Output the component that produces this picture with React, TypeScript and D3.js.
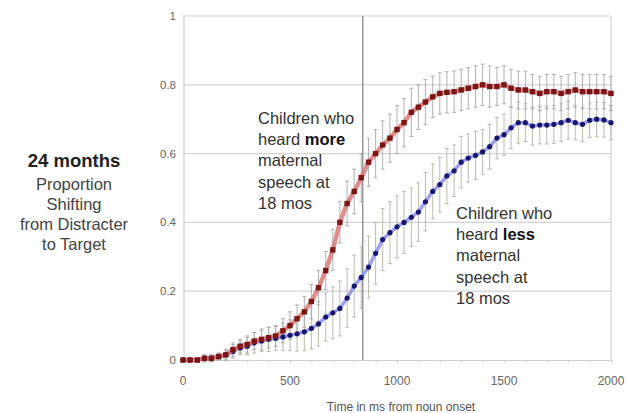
import React, { useEffect, useRef } from 'react';
import * as d3 from 'd3';

// sample times (ms from noun onset)
const times: number[] = [
    0, 33, 67, 100, 133, 167, 200, 233, 267, 300,
    333, 367, 400, 433, 467, 500, 533, 567, 600, 633,
    667, 700, 733, 767, 800, 833, 867, 900, 933, 967,
    1000, 1033, 1067, 1100, 1133, 1167, 1200, 1233, 1267, 1300,
    1333, 1367, 1400, 1433, 1467, 1500, 1533, 1567, 1600, 1633,
    1667, 1700, 1733, 1767, 1800, 1833, 1867, 1900, 1933, 1967,
    2000,
];

// children who heard more maternal speech
const moreValues: number[] = [
    0, 0, 0, 0.005, 0.005, 0.01, 0.015, 0.03, 0.04, 0.045,
    0.055, 0.06, 0.065, 0.07, 0.085, 0.1, 0.12, 0.14, 0.17, 0.21,
    0.26, 0.32, 0.4, 0.455, 0.49, 0.53, 0.575, 0.6, 0.625, 0.645,
    0.67, 0.69, 0.72, 0.735, 0.75, 0.765, 0.775, 0.778, 0.78, 0.785,
    0.79, 0.795, 0.8, 0.795, 0.795, 0.8, 0.79, 0.785, 0.785, 0.78,
    0.775, 0.78, 0.78, 0.775, 0.78, 0.785, 0.78, 0.78, 0.78, 0.78,
    0.775,
];
const moreErr: number[] = [
    0.005, 0.005, 0.005, 0.01, 0.01, 0.01, 0.015, 0.02, 0.02, 0.025,
    0.025, 0.03, 0.03, 0.03, 0.035, 0.04, 0.04, 0.045, 0.05, 0.05,
    0.055, 0.06, 0.06, 0.065, 0.065, 0.07, 0.07, 0.07, 0.07, 0.07,
    0.07, 0.07, 0.07, 0.065, 0.065, 0.06, 0.06, 0.06, 0.06, 0.06,
    0.06, 0.06, 0.06, 0.06, 0.055, 0.055, 0.055, 0.055, 0.055, 0.05,
    0.05, 0.05, 0.05, 0.05, 0.05, 0.05, 0.05, 0.05, 0.05, 0.05,
    0.05,
];

// children who heard less maternal speech
const lessValues: number[] = [
    0, 0, 0, 0.005, 0.005, 0.01, 0.015, 0.025, 0.035, 0.04,
    0.05, 0.055, 0.06, 0.063, 0.067, 0.072, 0.076, 0.082, 0.092, 0.105,
    0.125, 0.137, 0.15, 0.18, 0.215, 0.24, 0.27, 0.31, 0.35, 0.37,
    0.387, 0.4, 0.415, 0.43, 0.46, 0.49, 0.51, 0.535, 0.55, 0.575,
    0.587, 0.595, 0.605, 0.62, 0.645, 0.655, 0.675, 0.69, 0.69, 0.68,
    0.683, 0.683, 0.685, 0.69, 0.697, 0.69, 0.685, 0.697, 0.7, 0.698,
    0.69,
];
const lessErr: number[] = [
    0.005, 0.005, 0.005, 0.01, 0.01, 0.01, 0.015, 0.02, 0.02, 0.025,
    0.03, 0.03, 0.035, 0.035, 0.04, 0.045, 0.05, 0.055, 0.06, 0.065,
    0.07, 0.075, 0.08, 0.085, 0.09, 0.09, 0.09, 0.09, 0.09, 0.09,
    0.09, 0.09, 0.085, 0.085, 0.085, 0.08, 0.08, 0.08, 0.075, 0.075,
    0.07, 0.07, 0.065, 0.065, 0.06, 0.06, 0.06, 0.06, 0.055, 0.055,
    0.055, 0.055, 0.055, 0.055, 0.055, 0.05, 0.05, 0.05, 0.05, 0.05,
    0.05,
];

const yTicks: number[] = [0, 0.2, 0.4, 0.6, 0.8, 1];
const xTicks: number[] = [0, 500, 1000, 1500, 2000];
const markerTime = 840; // vertical reference line

const titleLines: string[] = ['Proportion', 'Shifting', 'from Distracter', 'to Target'];
const moreNote: string[] = ['Children who', 'heard |more', 'maternal', 'speech at', '18 mos'];
const lessNote: string[] = ['Children who', 'heard |less', 'maternal', 'speech at', '18 mos'];

const App: React.FC = () => {
    const ref = useRef<SVGSVGElement | null>(null);

    useEffect(() => {
        const el = ref.current;
        if (!el) return;
        const svg = d3.select(el);
        svg.selectAll('*').remove();

        const font = "'Liberation Sans', Arial, sans-serif";
        const x = d3.scaleLinear().domain([0, 2000]).range([183, 611]);
        const y = d3.scaleLinear().domain([0, 1]).range([360, 16]);

        // grid
        svg.append('g')
            .selectAll('line')
            .data(yTicks.filter((d) => d > 0))
            .enter()
            .append('line')
            .attr('x1', x(0))
            .attr('x2', x(2000))
            .attr('y1', (d) => y(d))
            .attr('y2', (d) => y(d))
            .attr('stroke', '#d4d4d4')
            .attr('stroke-width', 1.2);

        // frame
        svg.append('line')
            .attr('x1', x(2000)).attr('x2', x(2000))
            .attr('y1', y(1)).attr('y2', y(0))
            .attr('stroke', '#d4d4d4').attr('stroke-width', 1.2);
        svg.append('line')
            .attr('x1', x(0) + 1).attr('x2', x(0) + 1)
            .attr('y1', y(1)).attr('y2', y(0))
            .attr('stroke', '#d0d0d0').attr('stroke-width', 1.2);

        // x axis
        const xAxis = d3.axisBottom(x)
            .tickValues(d3.range(0, 2001, 100))
            .tickSize(3)
            .tickFormat(() => '');
        const gx = svg.append('g').attr('transform', `translate(0,${y(0)})`).call(xAxis);
        gx.selectAll('path,line').attr('stroke', '#cfcfcf');

        svg.append('g')
            .selectAll('text')
            .data(xTicks)
            .enter()
            .append('text')
            .attr('x', (d) => x(d))
            .attr('y', 385)
            .attr('text-anchor', 'middle')
            .style('font-family', font)
            .style('font-size', '12px')
            .style('fill', '#666')
            .text((d) => String(d));

        svg.append('g')
            .selectAll('text')
            .data(yTicks)
            .enter()
            .append('text')
            .attr('x', 176)
            .attr('y', (d) => y(d) + 4)
            .attr('text-anchor', 'end')
            .style('font-family', font)
            .style('font-size', '11.5px')
            .style('fill', '#666')
            .text((d) => String(d));

        svg.append('text')
            .attr('x', 401)
            .attr('y', 411)
            .attr('text-anchor', 'middle')
            .style('font-family', font)
            .style('font-size', '12px')
            .style('fill', '#555')
            .text('Time in ms from noun onset');

        // vertical reference line
        svg.append('line')
            .attr('x1', x(markerTime)).attr('x2', x(markerTime))
            .attr('y1', y(1)).attr('y2', y(0))
            .attr('stroke', '#808080').attr('stroke-width', 1.2);

        // error bars
        const drawErr = (vals: number[], errs: number[], color: string) => {
            const g = svg.append('g').attr('stroke', color).attr('stroke-width', 0.9);
            times.forEach((t, i) => {
                const cx = x(t);
                const lo = y(vals[i] - errs[i]);
                const hi = y(vals[i] + errs[i]);
                g.append('line').attr('x1', cx).attr('x2', cx).attr('y1', lo).attr('y2', hi);
                g.append('line').attr('x1', cx - 2).attr('x2', cx + 2).attr('y1', lo).attr('y2', lo);
                g.append('line').attr('x1', cx - 2).attr('x2', cx + 2).attr('y1', hi).attr('y2', hi);
            });
        };
        drawErr(lessValues, lessErr, '#b4b4a6');
        drawErr(moreValues, moreErr, '#a8a8a8');

        const line = d3.line<number>()
            .x((_, i) => x(times[i]))
            .y((d) => y(d));

        // less series
        svg.append('path')
            .datum(lessValues)
            .attr('d', line)
            .attr('fill', 'none')
            .attr('stroke', '#8c8cf0')
            .attr('stroke-width', 3.5)
            .attr('opacity', 0.85);
        svg.append('g')
            .selectAll('circle')
            .data(lessValues)
            .enter()
            .append('circle')
            .attr('cx', (_, i) => x(times[i]))
            .attr('cy', (d) => y(d))
            .attr('r', 2.6)
            .attr('fill', '#17176e');

        // more series
        svg.append('path')
            .datum(moreValues)
            .attr('d', line)
            .attr('fill', 'none')
            .attr('stroke', '#d77a7a')
            .attr('stroke-width', 4.5)
            .attr('opacity', 0.85);
        svg.append('g')
            .selectAll('rect')
            .data(moreValues)
            .enter()
            .append('rect')
            .attr('x', (_, i) => x(times[i]) - 2.7)
            .attr('y', (d) => y(d) - 2.7)
            .attr('width', 5.4)
            .attr('height', 5.4)
            .attr('fill', '#7c1616');

        // left title
        svg.append('text')
            .attr('x', 74)
            .attr('y', 167)
            .attr('text-anchor', 'middle')
            .style('font-family', font)
            .style('font-size', '18.5px')
            .style('font-weight', 'bold')
            .style('fill', '#222')
            .text('24 months');
        svg.append('g')
            .selectAll('text')
            .data(titleLines)
            .enter()
            .append('text')
            .attr('x', 74)
            .attr('y', (_, i) => 190 + i * 20)
            .attr('text-anchor', 'middle')
            .style('font-family', font)
            .style('font-size', '16.5px')
            .style('fill', '#444')
            .text((d) => d);

        // annotations
        const note = (lines: string[], x0: number, y0: number) => {
            const g = svg.append('g');
            lines.forEach((s, i) => {
                const t = g.append('text')
                    .attr('x', x0)
                    .attr('y', y0 + i * 21.2)
                    .style('font-family', font)
                    .style('font-size', '16.5px')
                    .style('fill', '#333');
                const parts = s.split('|');
                t.append('tspan').text(parts[0]);
                if (parts[1]) {
                    t.append('tspan').style('font-weight', 'bold').style('fill', '#111').text(parts[1]);
                }
            });
        };
        note(moreNote, 258, 124);
        note(lessNote, 456, 219);
    }, []);

    return (
        <svg
            ref={ref}
            width={626}
            height={413}
            style={{ position: 'absolute', left: 0, top: 0, background: '#fff' }}
        />
    );
};

export default App;
